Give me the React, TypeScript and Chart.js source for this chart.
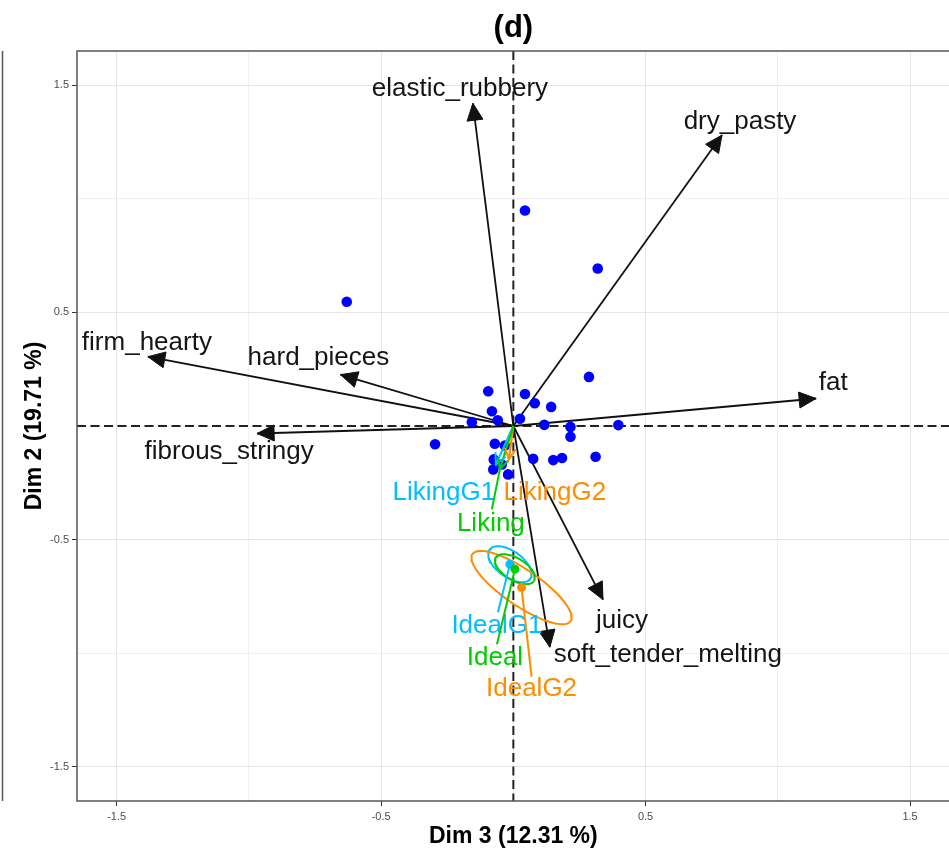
import React, { useEffect, useRef } from 'react';
import { Chart, registerables } from 'chart.js';

Chart.register(...registerables);

// ---------- data ----------
const AXIS_MIN = -1.65;
const AXIS_MAX = 1.65;
const GRID_TICKS = [-1.5, -1, -0.5, 0, 0.5, 1, 1.5];
const LABELED_TICKS = [-1.5, -0.5, 0.5, 1.5];

const TITLE = '(d)';
const X_TITLE = 'Dim 3 (12.31 %)';
const Y_TITLE = 'Dim 2 (19.71 %)';

// individuals (blue points)
const INDIV_X = [0.286, -0.095, 0.044, 0.081, 0.143, -0.081, -0.157, -0.059, 0.025, 0.117, 0.216, 0.397, 0.216,
  -0.296, -0.07, -0.032, 0.075, 0.151, 0.184, 0.311, -0.074, -0.076, -0.02, -0.044, 0.044, 0.319, -0.63];
const INDIV_Y = [0.216, 0.153, 0.141, 0.1, 0.084, 0.065, 0.017, 0.025, 0.032, 0.005, -0.004, 0.004, -0.047,
  -0.08, -0.078, -0.086, -0.144, -0.15, -0.141, -0.135, -0.147, -0.191, -0.213, -0.169, 0.948, 0.693, 0.547];

// active variables (black arrows)
const VAR_NAMES = ['elastic_rubbery', 'dry_pasty', 'fat', 'firm_hearty', 'hard_pieces', 'fibrous_stringy', 'juicy', 'soft_tender_melting'];
const VAR_X = [-0.153, 0.789, 1.145, -1.382, -0.654, -0.969, 0.339, 0.138];
const VAR_Y = [1.42, 1.28, 0.121, 0.305, 0.226, -0.033, -0.764, -0.973];

// supplementary variables (coloured arrows)
const SUP_NAMES = ['LikingG1', 'LikingG2', 'Liking'];
const SUP_X = [-0.066, -0.017, -0.051];
const SUP_Y = [-0.169, -0.147, -0.191];

// ideal points with confidence ellipses
const IDEAL_NAMES = ['IdealG1', 'IdealG2', 'Ideal'];
const IDEAL_X = [-0.013, 0.031, 0.006];
const IDEAL_Y = [-0.608, -0.711, -0.63];
const ELL_U_X = [0.0768, 0.1854, 0.0723];
const ELL_U_Y = [-0.0641, -0.1474, -0.0513];
const ELL_V_X = [-0.0287, -0.0385, -0.0217];
const ELL_V_Y = [-0.0464, -0.0652, -0.0412];

// ---------- styles / layout ----------
const GROUP_COLORS = ['#00BFFF', '#FF8C00', '#00CD00'];
const FONT = "'Liberation Sans', Arial, sans-serif";
const VAR_LABEL_OFFSETS: [number, number][] = [[-13, -14], [18, -13], [17, -16], [-1, -14], [-22, -17], [-28, 18], [19, 21], [118, 8]];
const SUP_LABEL_OFFSETS: [number, number][] = [[-52, 28], [46, 33], [-9, 54]];
const SUP_LEADER_ENDS: ([number, number] | null)[] = [null, null, [-8, 40]];
const IDEAL_LABEL_OFFSETS: [number, number][] = [[-13, 62], [10, 101], [-20, 89]];
const IDEAL_LEADER_ENDS: ([number, number] | null)[] = [[-12, 48], [10, 89], [-18, 75]];

function ellipsePoints(cx: number, cy: number, ux: number, uy: number, vx: number, vy: number) {
  const pts: { x: number; y: number }[] = [];
  const n = 90;
  for (let k = 0; k <= n; k++) {
    const t = (k / n) * Math.PI * 2;
    pts.push({ x: cx + ux * Math.cos(t) + vx * Math.sin(t), y: cy + uy * Math.cos(t) + vy * Math.sin(t) });
  }
  return pts;
}

function drawHead(ctx: CanvasRenderingContext2D, x0: number, y0: number, x1: number, y1: number,
  len: number, half: number, filled: boolean, color: string, lw: number) {
  const a = Math.atan2(y1 - y0, x1 - x0);
  const c = Math.cos(a), s = Math.sin(a);
  const bx = x1 - len * c, by = y1 - len * s;
  const px = -s * half, py = c * half;
  ctx.save();
  ctx.beginPath();
  if (filled) {
    ctx.moveTo(x1, y1);
    ctx.lineTo(bx + px, by + py);
    ctx.lineTo(bx - px, by - py);
    ctx.closePath();
    ctx.fillStyle = color;
    ctx.fill();
    ctx.strokeStyle = color;
    ctx.lineWidth = 1;
    ctx.stroke();
  } else {
    ctx.moveTo(bx + px, by + py);
    ctx.lineTo(x1, y1);
    ctx.lineTo(bx - px, by - py);
    ctx.strokeStyle = color;
    ctx.lineWidth = lw;
    ctx.lineJoin = 'miter';
    ctx.stroke();
  }
  ctx.restore();
}

const decorPlugin = {
  id: 'biplotDecor',
  beforeDatasetsDraw(chart: any) {
    const { ctx, chartArea: a, scales } = chart;
    const x0 = scales.x.getPixelForValue(0);
    const y0 = scales.y.getPixelForValue(0);
    ctx.save();
    ctx.strokeStyle = '#222';
    ctx.lineWidth = 2;
    ctx.setLineDash([9, 4.5]);
    ctx.beginPath();
    ctx.moveTo(x0, a.top);
    ctx.lineTo(x0, a.bottom);
    ctx.moveTo(a.left, y0);
    ctx.lineTo(a.right, y0);
    ctx.stroke();
    ctx.restore();
  },
  afterDatasetsDraw(chart: any) {
    const { ctx } = chart;
    chart.data.datasets.forEach((ds: any, i: number) => {
      if (!ds.decor) return;
      const meta = chart.getDatasetMeta(i);
      const d = ds.decor;
      const pts = meta.data;
      if (d.head) {
        const p0 = pts[0], p1 = pts[pts.length - 1];
        if (d.head === 'filled') drawHead(ctx, p0.x, p0.y, p1.x, p1.y, 17, 8, true, d.color, 1.8);
        else drawHead(ctx, p0.x, p0.y, p1.x, p1.y, 11, 5.5, false, d.color, 2);
      }
      const anchor = pts[pts.length - 1];
      if (d.leader) {
        ctx.save();
        ctx.strokeStyle = d.color;
        ctx.lineWidth = 2;
        ctx.beginPath();
        ctx.moveTo(anchor.x, anchor.y);
        ctx.lineTo(anchor.x + d.leader[0], anchor.y + d.leader[1]);
        ctx.stroke();
        ctx.restore();
      }
      if (d.label) {
        ctx.save();
        ctx.font = `26px ${FONT}`;
        ctx.fillStyle = d.textColor;
        ctx.textAlign = 'center';
        ctx.textBaseline = 'middle';
        ctx.fillText(d.label, anchor.x + d.offset[0], anchor.y + d.offset[1]);
        ctx.restore();
      }
    });
  },
  afterDraw(chart: any) {
    const { ctx, chartArea: a } = chart;
    ctx.save();
    // panel border (right edge lies beyond the visible frame)
    ctx.strokeStyle = '#555';
    ctx.lineWidth = 1.5;
    ctx.beginPath();
    ctx.moveTo(a.right + 5, a.top);
    ctx.lineTo(a.left, a.top);
    ctx.lineTo(a.left, a.bottom);
    ctx.lineTo(a.right + 5, a.bottom);
    ctx.stroke();
    // neighbouring panel edge
    ctx.beginPath();
    ctx.moveTo(2.5, a.top);
    ctx.lineTo(2.5, a.bottom);
    ctx.stroke();
    // titles
    const xc = chart.scales.x.getPixelForValue(0);
    const yc = chart.scales.y.getPixelForValue(0);
    ctx.fillStyle = '#000';
    ctx.textAlign = 'center';
    ctx.textBaseline = 'middle';
    ctx.font = `bold 31px ${FONT}`;
    ctx.fillText(TITLE, xc, 28);
    ctx.font = `bold 23px ${FONT}`;
    ctx.fillText(X_TITLE, xc, 837);
    ctx.translate(35, yc);
    ctx.rotate(-Math.PI / 2);
    ctx.fillText(Y_TITLE, 0, 0);
    ctx.restore();
  },
};

export default function App() {
  const ref = useRef<HTMLCanvasElement | null>(null);

  useEffect(() => {
    if (!ref.current) return;
    const datasets: any[] = [];

    VAR_NAMES.forEach((name, i) => {
      datasets.push({
        type: 'line',
        data: [{ x: 0, y: 0 }, { x: VAR_X[i], y: VAR_Y[i] }],
        borderColor: '#111',
        borderWidth: 1.8,
        pointRadius: 0,
        order: 30,
        decor: { head: 'filled', color: '#111', label: name, textColor: '#151515', offset: VAR_LABEL_OFFSETS[i] },
      });
    });

    datasets.push({
      type: 'scatter',
      data: INDIV_X.map((x, i) => ({ x, y: INDIV_Y[i] })),
      backgroundColor: '#0000FF',
      borderWidth: 0,
      pointRadius: 5.3,
      order: 20,
    });

    IDEAL_NAMES.forEach((name, i) => {
      datasets.push({
        type: 'line',
        data: ellipsePoints(IDEAL_X[i], IDEAL_Y[i], ELL_U_X[i], ELL_U_Y[i], ELL_V_X[i], ELL_V_Y[i]),
        borderColor: GROUP_COLORS[i],
        borderWidth: 2,
        pointRadius: 0,
        tension: 0,
        order: 15 - i,
      });
    });

    SUP_NAMES.forEach((name, i) => {
      datasets.push({
        type: 'line',
        data: [{ x: 0, y: 0 }, { x: SUP_X[i], y: SUP_Y[i] }],
        borderColor: GROUP_COLORS[i],
        borderWidth: 2.2,
        pointRadius: 0,
        order: 10 - i,
        decor: { head: 'open', color: GROUP_COLORS[i], label: name, textColor: GROUP_COLORS[i], offset: SUP_LABEL_OFFSETS[i], leader: SUP_LEADER_ENDS[i] },
      });
    });

    IDEAL_NAMES.forEach((name, i) => {
      datasets.push({
        type: 'scatter',
        data: [{ x: IDEAL_X[i], y: IDEAL_Y[i] }],
        backgroundColor: GROUP_COLORS[i],
        borderWidth: 0,
        pointRadius: 4.5,
        order: 5 - i,
        decor: { color: GROUP_COLORS[i], label: name, textColor: GROUP_COLORS[i], offset: IDEAL_LABEL_OFFSETS[i], leader: IDEAL_LEADER_ENDS[i] },
      });
    });

    const axis = (isY: boolean) => ({
      type: 'linear',
      min: AXIS_MIN,
      max: AXIS_MAX,
      afterBuildTicks: (s: any) => {
        s.ticks = GRID_TICKS.map((v) => ({ value: v }));
      },
      afterFit: (s: any) => {
        if (isY) s.width = 77;
        else s.height = 53;
      },
      ticks: {
        autoSkip: false,
        padding: isY ? 3 : 4,
        color: '#4D4D4D',
        font: { family: FONT, size: 11 },
        callback: (v: any) => (LABELED_TICKS.includes(v) ? String(v) : ''),
      },
      grid: {
        color: (c: any) => (c.tick && LABELED_TICKS.includes(c.tick.value) ? '#E6E6E6' : '#F0F0F0'),
        lineWidth: 1,
        tickLength: 5,
        tickColor: (c: any) => (c.tick && LABELED_TICKS.includes(c.tick.value) ? '#333' : 'rgba(0,0,0,0)'),
      },
      border: { display: false },
    });

    const chart = new Chart(ref.current, {
      type: 'scatter',
      data: { datasets },
      options: {
        responsive: false,
        animation: false,
        devicePixelRatio: 1,
        layout: { padding: { top: 51, right: 2, left: 0, bottom: 0 } },
        plugins: { legend: { display: false }, tooltip: { enabled: false }, title: { display: false } },
        scales: { x: axis(false) as any, y: axis(true) as any },
      },
      plugins: [decorPlugin],
    });
    return () => chart.destroy();
  }, []);

  return (
    <div style={{ position: 'fixed', left: 0, top: 0, width: 949, height: 854, overflow: 'hidden', background: '#fff' }}>
      <canvas ref={ref} width={955} height={854} style={{ width: 955, height: 854, display: 'block' }} />
    </div>
  );
}
